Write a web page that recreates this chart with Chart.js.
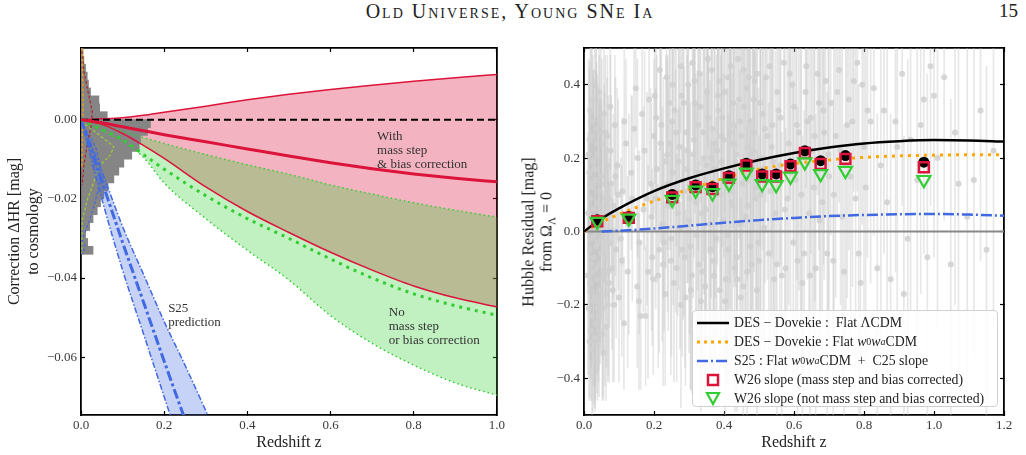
<!DOCTYPE html>
<html>
<head>
<meta charset="utf-8">
<script src="https://cdn.jsdelivr.net/npm/chart.js@4.4.0/dist/chart.umd.min.js"></script>
<style>
body { margin: 0; background: #fff; width: 1026px; height: 455px; overflow: hidden; position: relative; font-family: "Liberation Serif", serif; }
canvas { position: absolute; top: 0; }
#leftChart { left: 0; }
#rightChart { left: 512px; }
.header { position: absolute; top: 0; left: 0; width: 1020px; text-align: center; font-size: 20px; letter-spacing: 2px; font-variant: small-caps; color: #222; }
.pageNo { position: absolute; top: 0; right: 8px; font-size: 19px; color: #222; }
.ytitle { position: absolute; left: 540px; top: 232px; width: 300px; text-align: center; font-size: 16px; line-height: 18px; color: #222;
  transform: translate(-50%, -50%) rotate(-90deg); z-index: 2; }
.legend { position: absolute; left: 692px; top: 310px; width: 306px; height: 97px; border: 1px solid #d0d0d0; border-radius: 4px;
  background: rgba(255,255,255,0.85); z-index: 3; box-sizing: border-box; padding-top: 2px; }
.row { height: 19px; display: flex; align-items: center; font-size: 13.8px; color: #222; white-space: nowrap; }
.sym { width: 40px; display: flex; justify-content: center; margin-right: 1px; }
sub { font-size: 10px; }
</style>
</head>
<body>
<div class="header">Old Universe, Young SNe Ia</div>
<div class="pageNo">15</div>
<canvas id="leftChart" width="512" height="455"></canvas>
<canvas id="rightChart" width="514" height="455"></canvas>
<div class="ytitle">Hubble Residual [mag]<br>from Ω<sub style="font-size:11px">Λ</sub> = 0</div>
<div class="legend">
  <div class="row"><span class="sym"><svg width="34" height="8"><line x1="1" y1="4" x2="33" y2="4" stroke="#000" stroke-width="2.5"/></svg></span>DES − Dovekie :&nbsp; Flat ΛCDM</div>
  <div class="row"><span class="sym"><svg width="34" height="8"><line x1="1" y1="4" x2="33" y2="4" stroke="#FFA500" stroke-width="3" stroke-dasharray="3 4"/></svg></span>DES − Dovekie : Flat&nbsp;<i>w</i><sub>0</sub><i>w</i><sub><i>a</i></sub>CDM</div>
  <div class="row"><span class="sym"><svg width="34" height="8"><line x1="1" y1="4" x2="33" y2="4" stroke="#4169E1" stroke-width="2.5" stroke-dasharray="11 3 2 3"/></svg></span>S25 : Flat&nbsp;<i>w</i><sub>0</sub><i>w</i><sub><i>a</i></sub>CDM&nbsp; +&nbsp; C25 slope</div>
  <div class="row"><span class="sym"><svg width="14" height="14"><rect x="2" y="2" width="10" height="10" fill="none" stroke="#DC143C" stroke-width="2.5"/></svg></span>W26 slope (mass step and bias corrected)</div>
  <div class="row"><span class="sym"><svg width="16" height="15"><polygon points="2,2 14,2 8,13" fill="none" stroke="#32CD32" stroke-width="2.2"/></svg></span>W26 slope (not mass step and bias corrected)</div>
</div>
<script>
// ---------- left panel: correction to cosmology ----------
const zCurve = [0, 0.05, 0.1, 0.15, 0.2, 0.3, 0.4, 0.5, 0.6, 0.7, 0.8, 0.9, 1.0];
const redUpper = [0, 0.0002, 0.0005, 0.0011, 0.0019, 0.0034, 0.0050, 0.0064, 0.0076, 0.0087, 0.0097, 0.0106, 0.0114];
const redMid = [0, -0.0008, -0.0018, -0.0028, -0.0038, -0.0056, -0.0074, -0.0092, -0.0109, -0.0124, -0.0137, -0.0148, -0.0157];
const redLower = [0, -0.0012, -0.0035, -0.0065, -0.0098, -0.0170, -0.0232, -0.0285, -0.0335, -0.0380, -0.0420, -0.0450, -0.0473];
const greenUpper = [0, -0.0014, -0.0030, -0.0045, -0.0060, -0.0088, -0.0114, -0.0138, -0.0165, -0.0188, -0.0210, -0.0229, -0.0246];
const greenMid = [0, -0.0025, -0.0050, -0.0088, -0.0125, -0.0192, -0.0250, -0.0300, -0.0352, -0.0400, -0.0440, -0.0470, -0.0494];
const greenLower = [0, -0.0028, -0.0055, -0.0095, -0.0160, -0.0250, -0.0330, -0.0405, -0.0495, -0.0565, -0.0620, -0.0665, -0.0696];

// S25 prediction band
const zBlue = [0, 0.05, 0.1, 0.15, 0.2, 0.25, 0.3, 0.35];
const blueSteep = [0, -0.020, -0.038, -0.054, -0.070, -0.086, -0.102, -0.118];
const blueMid = [0, -0.0155, -0.031, -0.046, -0.061, -0.0757, -0.090, -0.105];
const blueShallow = [0, -0.013, -0.027, -0.039, -0.051, -0.062, -0.0735, -0.085];

// side histogram (bin centre in mag, bar length in z units)
const histCenters = [0.017, 0.015, 0.013, 0.011, 0.009, 0.007, 0.005, 0.003, 0.001, -0.001, -0.003, -0.005, -0.007,
  -0.009, -0.011, -0.013, -0.015, -0.017, -0.019, -0.021, -0.023, -0.025, -0.027, -0.029, -0.031, -0.033];
const histLengths = [0.005, 0.007, 0.011, 0.015, 0.018, 0.023, 0.043, 0.045, 0.063, 0.167, 0.160, 0.143, 0.140,
  0.122, 0.103, 0.091, 0.079, 0.065, 0.055, 0.047, 0.039, 0.029, 0.021, 0.011, 0.016, 0.029];

// dashed sub-sample outlines over the histogram
const orangeOutZ = [0.002, 0.004, 0.005, 0.004, 0.003, 0.002];
const orangeOutV = [0.018, 0.010, 0.004, 0.0, -0.006, -0.012];
const brickOutZ = [0.002, 0.007, 0.015, 0.021, 0.027, 0.025, 0.015, 0.007, 0.003];
const brickOutV = [0.0173, 0.0122, 0.008, 0.0051, 0.0021, -0.0013, -0.0063, -0.0114, -0.0165];
const oliveOutZ = [0, 0.043, 0.079, 0.071, 0.043, 0.027, 0.015, 0.003, 0.002];
const oliveOutV = [-0.0004, -0.0038, -0.0068, -0.0089, -0.0118, -0.0169, -0.0203, -0.0253, -0.0337];
const blueOutZ = [0, 0.035, 0.047, 0.043, 0.031, 0.015, 0.003, 0.010, 0.003];
const blueOutV = [-0.0004, -0.0068, -0.0118, -0.0169, -0.0219, -0.027, -0.0304, -0.032, -0.034];

const leftXTicks = [0, 0.2, 0.4, 0.6, 0.8, 1.0];
const leftYTicks = [0, -0.02, -0.04, -0.06];

// ---------- right panel: Hubble residuals of individual SNe ----------
const hrZ = [0.012, 0.014, 0.015, 0.017, 0.018, 0.019, 0.020, 0.021, 0.022, 0.023, 0.024, 0.025, 0.026, 0.027, 0.028,
  0.029, 0.030, 0.031, 0.032, 0.033, 0.034, 0.035, 0.036, 0.037, 0.038, 0.039, 0.040, 0.042, 0.043, 0.044, 0.045,
  0.046, 0.048, 0.049, 0.050, 0.052, 0.053, 0.055, 0.057, 0.058, 0.060, 0.062, 0.064, 0.066, 0.068, 0.070, 0.073,
  0.076, 0.080, 0.084, 0.088, 0.092, 0.095,
  0.105, 0.108, 0.110, 0.114, 0.120, 0.128, 0.135, 0.143, 0.148, 0.152, 0.162, 0.170, 0.176, 0.186, 0.190, 0.195, 0.200,
  0.205, 0.212, 0.219, 0.224, 0.229, 0.234, 0.238, 0.244, 0.248, 0.252, 0.257, 0.262, 0.268, 0.272, 0.276, 0.281,
  0.286, 0.290, 0.295, 0.300, 0.305, 0.310, 0.314, 0.319, 0.324, 0.329, 0.333, 0.338, 0.343, 0.348, 0.352, 0.357,
  0.362, 0.367, 0.372, 0.377, 0.381, 0.386, 0.391, 0.395, 0.400, 0.405, 0.410, 0.415, 0.419, 0.424, 0.429, 0.433,
  0.438, 0.443, 0.448, 0.452, 0.457, 0.462, 0.467, 0.471, 0.476, 0.481, 0.486, 0.490, 0.495, 0.500, 0.505, 0.510,
  0.515, 0.524, 0.533, 0.538, 0.543, 0.552, 0.560, 0.571, 0.576, 0.585, 0.590, 0.600, 0.610, 0.619, 0.629, 0.638,
  0.648, 0.657, 0.667, 0.676, 0.686, 0.695,
  0.705, 0.714, 0.724, 0.733, 0.743, 0.752, 0.762, 0.771, 0.781, 0.790, 0.800, 0.810, 0.819, 0.838, 0.848, 0.857,
  0.876, 0.890, 0.909, 0.914, 0.933, 0.952, 0.971, 0.981, 1.000,
  1.010, 1.029, 1.048, 1.070, 1.114, 1.133, 1.150,
  0.013, 0.016, 0.018, 0.020, 0.022, 0.024, 0.026, 0.028, 0.030, 0.032, 0.034, 0.036, 0.038, 0.041, 0.044, 0.047,
  0.051, 0.054, 0.059, 0.063, 0.067, 0.072, 0.078, 0.086, 0.098,
  0.153, 0.158, 0.166, 0.180, 0.198, 0.202, 0.208, 0.215, 0.221, 0.227, 0.232, 0.236, 0.241, 0.246, 0.250, 0.255,
  0.259, 0.265, 0.270, 0.274, 0.279, 0.283, 0.288, 0.293, 0.298, 0.302, 0.308, 0.312, 0.317, 0.322, 0.327, 0.331,
  0.336, 0.341, 0.346, 0.350, 0.355, 0.360, 0.365, 0.369, 0.374, 0.379, 0.384, 0.388, 0.393, 0.398, 0.402, 0.407,
  0.412, 0.417, 0.421, 0.426, 0.431, 0.436, 0.440, 0.445, 0.450, 0.455, 0.460, 0.464, 0.469, 0.474, 0.479, 0.483,
  0.488, 0.493, 0.498, 0.503, 0.512, 0.520, 0.528, 0.536, 0.547, 0.556, 0.565, 0.581, 0.595, 0.605, 0.614, 0.624,
  0.633, 0.643, 0.652, 0.662, 0.671, 0.681, 0.690, 0.700, 0.719, 0.738, 0.757, 0.776, 0.795,
  0.206, 0.217, 0.226, 0.239, 0.253, 0.263, 0.277, 0.285, 0.297, 0.304, 0.316, 0.326, 0.334, 0.345, 0.354, 0.363,
  0.371, 0.383, 0.392, 0.403, 0.411, 0.418, 0.428, 0.437, 0.447, 0.456, 0.466, 0.475, 0.485, 0.494, 0.504, 0.517,
  0.530, 0.541, 0.551, 0.562, 0.574, 0.588, 0.598, 0.608, 0.621, 0.635, 0.646, 0.659, 0.673, 0.684, 0.698, 0.712,
  0.729, 0.748, 0.767, 0.785, 0.805, 0.828, 0.866, 0.895, 0.925, 0.962, 0.990, 1.060, 1.095, 1.170,
  0.011, 0.016, 0.019, 0.023, 0.027, 0.031, 0.035, 0.039, 0.043, 0.047, 0.056, 0.061, 0.069, 0.075, 0.082, 0.090,
  0.100, 0.115, 0.125, 0.138, 0.157, 0.173, 0.183, 0.193];
const hrRes = [0.05, -0.21, 0.16, -0.05, 0.09, -0.14, 0.30, -0.02, 0.12, -0.23, 0.02, -0.11, 0.19, -0.07, 0.06,
  -0.35, 0.40, -0.18, 0.03, -0.25, 0.14, -0.04, 0.24, -0.13, 0.08, -0.03, 0.21, -0.09, -0.23, 0.11, 0.02,
  -0.16, 0.27, -0.06, 0.15, -0.28, 0.05, -0.12, 0.32, 0.13, -0.17, 0.04, -0.07, 0.18, -0.20, 0.09, -0.03,
  0.22, -0.10, 0.07, 0.29, -0.05, 0.18,
  -0.02, -0.08, 0.11, -0.25, 0.24, 0.02, 0.16, 0.28, 0.39, -0.15, -0.23, 0.06, -0.23, 0.36, 0.13, -0.07, 0.26,
  0.09, -0.12, 0.24, 0.02, -0.03, 0.19, 0.21, 0.35, -0.08, 0.30, -0.14, 0.11, 0.05, 0.23, 0.45, -0.05,
  0.11, -0.18, 0.17, 0.03, -0.16, 0.46, 0.25, 0.08, 0.14, -0.09, 0.34, -0.11, 0.20, 0.06, 0.38, 0.12,
  -0.05, 0.28, 0.17, -0.02, 0.22, 0.41, 0.10, 0.31, 0.25, -0.13, -0.01, 0.16, 0.45, 0.07, 0.29, 0.19,
  -0.13, 0.36, -0.18, 0.13, 0.34, 0.04, 0.23, 0.42, -0.04, 0.15, 0.27, 0.09, 0.43, -0.08, 0.20, 0.32,
  0.01, 0.26, 0.11, 0.29, -0.13, 0.38, 0.18, 0.46, -0.10, 0.24, 0.16, 0.34, -0.08, 0.21, -0.06, 0.30,
  0.31, 0.12, 0.43, 0.19, 0.27, -0.06,
  0.35, 0.10, 0.38, 0.22, -0.11, 0.29, 0.15, 0.41, 0.46, -0.14, 0.23, 0.33, 0.30, -0.10, 0.18, 0.33,
  -0.13, 0.30, 0.43, -0.17, 0.25, 0.14, 0.36, -0.07, 0.37,
  0.20, 0.42, -0.09, 0.13, 0.14, 0.33, -0.05,
  0.21, -0.30, 0.33, -0.09, -0.32, 0.26, -0.19, 0.17, -0.01, -0.29, 0.36, -0.10, 0.17, -0.19, 0.30, -0.02,
  0.24, -0.21, 0.09, -0.26, 0.26, -0.14, 0.13, -0.20, 0.10,
  0.20, -0.03, 0.32, 0.09, -0.13, 0.37, 0.17, -0.05, 0.29, 0.12, -0.17, 0.42, 0.07, 0.24, -0.02, 0.16,
  0.33, -0.10, 0.19, 0.01, 0.37, 0.14, -0.07, 0.27, 0.40, 0.09, -0.12, 0.21, 0.35, -0.01, 0.16, 0.43,
  0.05, 0.27, -0.15, 0.18, 0.31, 0.02, 0.44, -0.08, 0.24, 0.10, 0.33, -0.16, 0.19, 0.03, 0.38, 0.13,
  -0.05, 0.27, 0.08, 0.35, -0.10, 0.21, 0.47, 0.02, 0.26, -0.15, 0.18, 0.39, 0.07, 0.30, -0.09, 0.22,
  0.41, 0.12, -0.03, 0.35, 0.17, 0.42, -0.06, 0.23, 0.05, 0.33, -0.12, 0.09, 0.40, 0.14, 0.27, -0.14,
  0.38, 0.05, 0.22, -0.10, 0.35, 0.08, 0.41, 0.15, 0.26, 0.04, 0.36, 0.09, 0.40,
  0.31, 0.44, -0.09, 0.13, 0.40, 0.27, -0.20, 0.35, 0.22, -0.04, 0.41, 0.29, -0.19, 0.12, 0.47, 0.20,
  -0.12, 0.37, 0.26, -0.19, 0.42, 0.11, 0.24, -0.07, 0.30, 0.44, -0.11, 0.21, 0.36, -0.16, 0.10, 0.28,
  0.45, 0.19, -0.09, 0.31, 0.06, 0.43, -0.03, 0.29, 0.10, 0.45, -0.12, 0.26, 0.03, 0.33, 0.21, -0.08,
  0.44, 0.18, 0.30, -0.06, 0.12, 0.39, 0.08, 0.23, -0.02, 0.29, 0.45, 0.27, 0.04, 0.22,
  -0.12, 0.25, -0.27, 0.36, 0.13, -0.31, 0.28, -0.21, 0.38, 0.07, -0.33, 0.27, -0.11, 0.34, -0.16, 0.15,
  -0.18, 0.30, -0.11, 0.09, -0.19, 0.22, -0.11, 0.04];
const hrErr = [0.22, 0.25, 0.28, 0.30, 0.24, 0.26, 0.20, 0.33, 0.21, 0.27, 0.30, 0.22, 0.25, 0.35, 0.20,
  0.12, 0.18, 0.24, 0.28, 0.21, 0.30, 0.26, 0.22, 0.31, 0.23, 0.27, 0.19, 0.29, 0.22, 0.25, 0.32,
  0.20, 0.24, 0.28, 0.21, 0.18, 0.26, 0.23, 0.20, 0.27, 0.25, 0.22, 0.30, 0.24, 0.21, 0.28, 0.23,
  0.26, 0.22, 0.25, 0.19, 0.24, 0.21,
  0.22, 0.26, 0.20, 0.18, 0.23, 0.30, 0.21, 0.25, 0.16, 0.22, 0.20, 0.28, 0.19, 0.22, 0.26, 0.24, 0.21,
  0.30, 0.25, 0.27, 0.32, 0.24, 0.29, 0.26, 0.22, 0.31, 0.24, 0.27, 0.33, 0.28, 0.30, 0.18, 0.29,
  0.34, 0.24, 0.31, 0.36, 0.27, 0.20, 0.32, 0.35, 0.30, 0.28, 0.26, 0.31, 0.37, 0.33, 0.25, 0.36,
  0.30, 0.34, 0.39, 0.33, 0.31, 0.24, 0.38, 0.35, 0.32, 0.29, 0.40, 0.37, 0.22, 0.36, 0.41, 0.34,
  0.30, 0.38, 0.27, 0.42, 0.33, 0.39, 0.36, 0.29, 0.35, 0.43, 0.38, 0.40, 0.27, 0.34, 0.44, 0.37,
  0.41, 0.39, 0.45, 0.36, 0.33, 0.35, 0.42, 0.28, 0.38, 0.44, 0.40, 0.38, 0.42, 0.46, 0.39, 0.43,
  0.37, 0.45, 0.33, 0.41, 0.40, 0.44,
  0.36, 0.45, 0.34, 0.42, 0.40, 0.47, 0.43, 0.30, 0.35, 0.38, 0.48, 0.40, 0.44, 0.42, 0.50, 0.39,
  0.45, 0.41, 0.36, 0.43, 0.48, 0.46, 0.42, 0.50, 0.44,
  0.47, 0.39, 0.45, 0.52, 0.48, 0.41, 0.50,
  0.26, 0.15, 0.17, 0.28, 0.14, 0.22, 0.30, 0.27, 0.31, 0.20, 0.15, 0.29, 0.26, 0.22, 0.18, 0.30,
  0.23, 0.24, 0.29, 0.20, 0.22, 0.27, 0.24, 0.21, 0.26,
  0.27, 0.25, 0.22, 0.29, 0.26, 0.24, 0.31, 0.28, 0.33, 0.30, 0.25, 0.22, 0.34, 0.29, 0.32, 0.36,
  0.27, 0.31, 0.35, 0.33, 0.28, 0.38, 0.30, 0.34, 0.26, 0.37, 0.32, 0.39, 0.30, 0.36, 0.40, 0.25,
  0.38, 0.35, 0.31, 0.41, 0.37, 0.39, 0.27, 0.35, 0.42, 0.38, 0.36, 0.30, 0.43, 0.40, 0.33, 0.44,
  0.37, 0.41, 0.45, 0.34, 0.39, 0.43, 0.25, 0.42, 0.40, 0.36, 0.46, 0.33, 0.44, 0.41, 0.38, 0.47,
  0.31, 0.45, 0.42, 0.39, 0.46, 0.34, 0.41, 0.47, 0.44, 0.42, 0.39, 0.48, 0.36, 0.46, 0.43, 0.40,
  0.38, 0.47, 0.44, 0.42, 0.40, 0.48, 0.37, 0.46, 0.44, 0.47, 0.41, 0.49, 0.38,
  0.30, 0.22, 0.33, 0.35, 0.26, 0.31, 0.28, 0.33, 0.36, 0.39, 0.27, 0.34, 0.30, 0.40, 0.24, 0.38,
  0.36, 0.33, 0.41, 0.34, 0.30, 0.43, 0.39, 0.42, 0.37, 0.31, 0.40, 0.45, 0.36, 0.38, 0.46, 0.42,
  0.30, 0.44, 0.41, 0.40, 0.47, 0.34, 0.44, 0.42, 0.48, 0.33, 0.43, 0.45, 0.47, 0.42, 0.46, 0.44,
  0.36, 0.47, 0.45, 0.46, 0.49, 0.40, 0.48, 0.47, 0.49, 0.46, 0.38, 0.47, 0.50, 0.48,
  0.27, 0.21, 0.19, 0.16, 0.29, 0.17, 0.22, 0.25, 0.14, 0.30, 0.13, 0.21, 0.28, 0.17, 0.25, 0.27,
  0.23, 0.20, 0.26, 0.28, 0.24, 0.27, 0.29, 0.31];

// binned W26 points
const binZ = [0.038, 0.128, 0.252, 0.319, 0.367, 0.414, 0.464, 0.509, 0.549, 0.590, 0.631, 0.676, 0.747, 0.971];
const binBlack = [0.032, 0.041, 0.101, 0.127, 0.122, 0.152, 0.186, 0.157, 0.157, 0.184, 0.220, 0.193, 0.207, 0.189];
const binCorrected = [0.028, 0.037, 0.093, 0.121, 0.116, 0.146, 0.180, 0.150, 0.150, 0.178, 0.214, 0.184, 0.198, 0.175];
const binUncorrected = [0.027, 0.036, 0.087, 0.112, 0.105, 0.131, 0.161, 0.130, 0.127, 0.150, 0.189, 0.157, 0.166, 0.141];

// cosmology curves
const zModel = [0, 0.05, 0.1, 0.2, 0.3, 0.4, 0.5, 0.6, 0.7, 0.8, 0.9, 1.0, 1.1, 1.2];
const lcdmCurve = [0, 0.035, 0.063, 0.110, 0.145, 0.172, 0.195, 0.214, 0.229, 0.240, 0.246, 0.249, 0.248, 0.245];
const w0waCurve = [0, 0.025, 0.047, 0.083, 0.115, 0.145, 0.170, 0.185, 0.195, 0.202, 0.206, 0.208, 0.209, 0.209];
const zS25 = [0.05, 0.1, 0.2, 0.3, 0.4, 0.5, 0.6, 0.7, 0.8, 0.9, 1.0, 1.1, 1.2];
const s25Curve = [0, 0.002, 0.008, 0.016, 0.024, 0.031, 0.037, 0.042, 0.045, 0.047, 0.048, 0.046, 0.043];
const zZero = [0, 1.2];
const zeroLine = [0, 0];

const rightXTicks = [0, 0.2, 0.4, 0.6, 0.8, 1.0, 1.2];
const rightYTicks = [-0.4, -0.2, 0, 0.2, 0.4];

// ---------- helpers ----------
const pts = (xs, ys) => xs.map((x, i) => ({ x: x, y: ys[i] }));
const tickFont = { family: 'Liberation Serif', size: 13 };
const titleFont = { family: 'Liberation Serif', size: 16, lineHeight: 1.15 };
const minus = v => (v < 0 ? '\u2212' : '');

function axis(pos, min, max, ticks, fmt, size) {
  const horizontal = pos === 'top' || pos === 'bottom';
  const labelled = pos === 'bottom' || pos === 'left';
  return {
    type: 'linear', position: pos, min: min, max: max, offset: false,
    afterBuildTicks: s => { s.ticks = ticks.map(v => ({ value: v })); },
    afterFit: s => { if (horizontal) s.height = size; else s.width = size; },
    grid: { offset: false, drawOnChartArea: false, drawTicks: true, tickLength: -4, tickWidth: 1.2, tickColor: '#000' },
    border: { display: true, color: '#000', width: 1.8 },
    ticks: { display: labelled, autoSkip: false, maxRotation: 0, font: tickFont, color: '#3a3a3a',
      padding: horizontal ? 7 : 8, callback: fmt }
  };
}

const line = (data, color, width, dash, order, extra) => Object.assign({
  type: 'line', data: data, borderColor: color, borderWidth: width, borderDash: dash || [],
  pointRadius: 0, fill: false, order: order, cubicInterpolationMode: 'monotone'
}, extra || {});

// ---------- left chart ----------
const noteText = [['With', 'mass step', '& bias correction'], ['No', 'mass step', 'or bias correction'], ['S25', 'prediction']];
const noteAt = [{ z: 0.712, v: -0.00505 }, { z: 0.740, v: -0.0497 }, { z: 0.2095, v: -0.0485 }];

const notesPlugin = {
  id: 'notes',
  afterDatasetsDraw(chart) {
    const { ctx, scales: { x, y } } = chart;
    ctx.save();
    ctx.font = '13px "Liberation Serif"';
    ctx.fillStyle = '#333';
    ctx.textBaseline = 'alphabetic';
    noteText.forEach((lines, i) => {
      const px = x.getPixelForValue(noteAt[i].z);
      const py = y.getPixelForValue(noteAt[i].v);
      lines.forEach((t, k) => ctx.fillText(t, px, py + k * 14));
    });
    ctx.restore();
  }
};

const fmtZ = v => v.toFixed(1);
const fmtLeftY = v => (v === 0 ? '0.00' : minus(v) + Math.abs(v).toFixed(2));
const fmtRightY = v => (Math.abs(v) < 1e-9 ? '0.0' : minus(v) + Math.abs(v).toFixed(1));

const leftX = axis('bottom', 0, 1.0, leftXTicks, fmtZ, 40);
leftX.title = { display: true, text: 'Redshift z', font: titleFont, color: '#222', padding: { top: 0, bottom: 3 } };
const leftY = axis('left', -0.0746, 0.0181, leftYTicks, fmtLeftY, 81);
leftY.title = { display: true, text: ['Correction \u0394HR [mag]', 'to cosmology'], font: titleFont, color: '#222', padding: { top: 6, bottom: 0 } };

new Chart(document.getElementById('leftChart'), {
  type: 'line',
  data: {
    datasets: [
      line(pts(zCurve, redUpper), '#DC143C', 1.5, null, 20),                                     // 0
      line(pts(zCurve, redLower), 'rgba(0,0,0,0)', 0, null, 100,
        { fill: { target: 0 }, backgroundColor: 'rgba(220,20,60,0.32)' }),                      // 1
      line(pts(zCurve, greenUpper), 'rgba(0,0,0,0)', 0, null, 99),                              // 2
      line(pts(zCurve, greenLower), 'rgba(0,0,0,0)', 0, null, 98,
        { fill: { target: 2 }, backgroundColor: 'rgba(50,205,50,0.3)' }),                       // 3
      { type: 'bar', indexAxis: 'y', data: pts(histLengths, histCenters), backgroundColor: '#858585',
        borderWidth: 0, barThickness: 8, order: 90 },                                           // 4
      line(pts(orangeOutZ, orangeOutV), '#FFA500', 1.2, [3, 2], 85, { cubicInterpolationMode: 'default' }),
      line(pts(brickOutZ, brickOutV), '#B22222', 1.2, [3, 2], 85, { cubicInterpolationMode: 'default' }),
      line(pts(oliveOutZ, oliveOutV), '#9ACD32', 1.2, [3, 2], 85, { cubicInterpolationMode: 'default' }),
      line(pts(blueOutZ, blueOutV), '#4169E1', 1.2, [3, 2], 85, { cubicInterpolationMode: 'default' }),
      line(pts(zBlue, blueSteep), '#4169E1', 1.5, [6, 2, 1.5, 2], 20),                          // 9
      line(pts(zBlue, blueShallow), '#4169E1', 1.5, [6, 2, 1.5, 2], 80,
        { fill: { target: 9 }, backgroundColor: 'rgba(65,105,225,0.3)' }),                      // 10
      line(pts(zCurve, redLower), '#DC143C', 1.5, null, 20),
      line(pts(zCurve, greenUpper), '#32CD32', 1.5, [1.5, 3], 20),
      line(pts(zCurve, greenLower), '#32CD32', 1.5, [1.5, 3], 20),
      line(pts([0, 1.0], [0, 0]), '#000', 2, [7, 4], 15),
      line(pts(zCurve, redMid), '#DC143C', 3, null, 10),
      line(pts(zCurve, greenMid), '#32CD32', 3, [3, 5], 10),
      line(pts(zBlue, blueMid), '#4169E1', 3, [10, 3, 3, 3], 10)
    ]
  },
  options: {
    responsive: false, animation: false, devicePixelRatio: 1, events: [],
    layout: { padding: { top: 48, right: 11, left: 0, bottom: 0 } },
    plugins: { legend: { display: false }, tooltip: { enabled: false } },
    scales: {
      x: leftX,
      y: leftY,
      x2: axis('top', 0, 1.0, leftXTicks, fmtZ, 0),
      y2: axis('right', -0.0746, 0.0181, leftYTicks, fmtLeftY, 0)
    }
  },
  plugins: [notesPlugin]
});

// ---------- right chart ----------
const rightX = axis('bottom', 0, 1.2, rightXTicks, fmtZ, 40);
rightX.title = { display: true, text: 'Redshift z', font: titleFont, color: '#222', padding: { top: 0, bottom: 3 } };

const errorBars = hrZ.map((z, i) => ({ x: z, y: [hrRes[i] - hrErr[i], hrRes[i] + hrErr[i]] }));

new Chart(document.getElementById('rightChart'), {
  type: 'line',
  data: {
    datasets: [
      { type: 'bar', data: errorBars, backgroundColor: 'rgba(195,195,195,0.4)', borderWidth: 0,
        barThickness: 1, order: 100 },
      line(pts(hrZ, hrRes), 'rgba(0,0,0,0)', 0, null, 95,
        { showLine: false, pointRadius: 3, pointBackgroundColor: 'rgba(208,208,208,0.85)', pointBorderWidth: 0 }),
      line(pts(zZero, zeroLine), '#888', 2, null, 50),
      line(pts(zS25, s25Curve), '#4169E1', 2.5, [11, 3, 2, 3], 40),
      line(pts(zModel, lcdmCurve), '#000', 2.5, null, 30),
      line(pts(zModel, w0waCurve), '#FFA500', 3, [3, 5], 30),
      line(pts(binZ, binBlack), 'rgba(0,0,0,0)', 0, null, 20,
        { showLine: false, pointRadius: 5.5, pointBackgroundColor: '#000', pointBorderWidth: 0 }),
      line(pts(binZ, binCorrected), 'rgba(0,0,0,0)', 0, null, 10,
        { showLine: false, pointStyle: 'rect', pointRadius: 7, pointBackgroundColor: 'rgba(0,0,0,0)',
          pointBorderColor: '#DC143C', pointBorderWidth: 2.5 }),
      line(pts(binZ, binUncorrected), 'rgba(0,0,0,0)', 0, null, 5,
        { showLine: false, pointStyle: 'triangle', pointRotation: 180, pointRadius: 7.5,
          pointBackgroundColor: 'rgba(0,0,0,0)', pointBorderColor: '#32CD32', pointBorderWidth: 2.2 })
    ]
  },
  options: {
    responsive: false, animation: false, devicePixelRatio: 1, events: [],
    layout: { padding: { top: 48, right: 22, left: 0, bottom: 0 } },
    plugins: { legend: { display: false }, tooltip: { enabled: false } },
    scales: {
      x: rightX,
      y: axis('left', -0.5, 0.5, rightYTicks, fmtRightY, 72),
      x2: axis('top', 0, 1.2, rightXTicks, fmtZ, 0),
      y2: axis('right', -0.5, 0.5, rightYTicks, fmtRightY, 0)
    }
  }
});
</script>
</body>
</html>
